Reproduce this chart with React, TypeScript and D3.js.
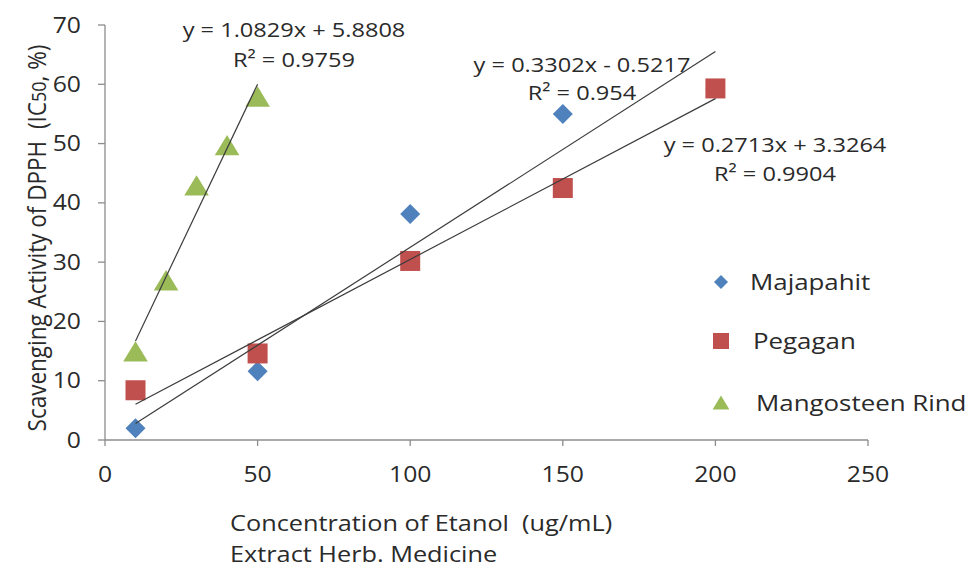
import React from 'react';
import * as d3 from 'd3';

// ---- data ----
const concMajapahit = [10, 50, 100, 150, 200];
const valMajapahit = [2.0, 11.6, 38.1, 55.0, 59.2];
const concPegagan = [10, 50, 100, 150, 200];
const valPegagan = [8.4, 14.6, 30.2, 42.5, 59.3];
const concMangosteen = [10, 20, 30, 40, 50];
const valMangosteen = [14.8, 26.8, 42.8, 49.6, 57.8];
const seriesNames = ['Majapahit', 'Pegagan', 'Mangosteen Rind'];
const trendSlopes = [0.3302, 0.2713, 1.0829];
const trendIntercepts = [-0.5217, 3.3264, 5.8808];
const trendEquations = ['y = 0.3302x - 0.5217', 'y = 0.2713x + 3.3264', 'y = 1.0829x + 5.8808'];
const trendR2 = ['R² = 0.954', 'R² = 0.9904', 'R² = 0.9759'];
const xTicks = [0, 50, 100, 150, 200, 250];
const yTicks = [0, 10, 20, 30, 40, 50, 60, 70];

const W = 970;
const H = 569;
const FONT = "'Open Sans', 'Noto Sans', sans-serif";
const SX = 1.15;
const TXT = '#2a2a2a';
const COLORS = ['#4F81BD', '#C0504D', '#9BBB59'];

const x = d3.scaleLinear().domain([0, 250]).range([105, 868]);
const y = d3.scaleLinear().domain([0, 70]).range([440, 25]);

const markerPath = (shape: number, cx: number, cy: number, s: number) => {
  const p = d3.path();
  if (shape === 0) {
    p.moveTo(cx, cy - s);
    p.lineTo(cx + s, cy);
    p.lineTo(cx, cy + s);
    p.lineTo(cx - s, cy);
    p.closePath();
  } else if (shape === 1) {
    p.rect(cx - s, cy - s, 2 * s, 2 * s);
  } else {
    p.moveTo(cx, cy - s);
    p.lineTo(cx + s * 1.12, cy + s * 0.85);
    p.lineTo(cx - s * 1.12, cy + s * 0.85);
    p.closePath();
  }
  return p.toString();
};

const T = ({ x: tx, y: ty, anchor = 'start', size = 20, rot = 0, sx = SX, children, fill = TXT }: any) => (
  <text
    transform={`translate(${tx},${ty}) scale(${sx},1)${rot ? ` rotate(${rot})` : ''}`}
    textAnchor={anchor}
    fontFamily={FONT}
    fontSize={size}
    fill={fill}
  >
    {children}
  </text>
);

export default function App() {
  const series = [
    { xs: concMajapahit, ys: valMajapahit },
    { xs: concPegagan, ys: valPegagan },
    { xs: concMangosteen, ys: valMangosteen },
  ];
  const markerSize = [10, 10, 11];
  const legendSize = [7, 8, 7.5];
  const legendY = [282, 341, 403];
  const legendTextX = [750, 753, 756];
  const eqPos = [
    [582, 72, 100],
    [775, 152, 181],
    [294, 37, 67],
  ];
  const line = d3.line<number>().x((d) => x(d[0] as any)).y((d) => y(d[1] as any));

  return (
    <div style={{ position: 'fixed', left: 0, top: 0 }}>
      <svg width={W} height={H} style={{ display: 'block', background: '#fff' }}>
        <rect width={W} height={H} fill="#fff" />
        {/* axes */}
        <line x1={x(0)} x2={x(250)} y1={y(0)} y2={y(0)} stroke="#8c8c8c" strokeWidth={1.3} />
        <line x1={x(0)} x2={x(0)} y1={y(0)} y2={y(70)} stroke="#8c8c8c" strokeWidth={1.3} />
        {yTicks.map((t) => (
          <g key={'yt' + t}>
            <line x1={x(0) - 7} x2={x(0)} y1={y(t)} y2={y(t)} stroke="#8c8c8c" strokeWidth={1.3} />
            <T x={81} y={y(t) + 7.5} anchor="end" size={21.5}>{t}</T>
          </g>
        ))}
        {xTicks.map((t) => (
          <g key={'xt' + t}>
            <line x1={x(t)} x2={x(t)} y1={y(0)} y2={y(0) + 6} stroke="#8c8c8c" strokeWidth={1.3} />
            <T x={x(t)} y={482} anchor="middle" size={21.5}>{t}</T>
          </g>
        ))}
        {/* axis titles */}
        <T x={230} y={531} size={22}>Concentration of Etanol{'\u00a0\u00a0'}(ug/mL)</T>
        <T x={230} y={562} size={22}>Extract Herb. Medicine</T>
        <T x={46} y={238} anchor="middle" size={22.5} sx={1.1} rot={-90}>
          Scavenging Activity of DPPH{'\u00a0\u00a0'}(IC<tspan fontSize={18}>50</tspan>, %)
        </T>
        {/* markers */}
        {series.map((s, i) => (
          <g key={'s' + i} fill={COLORS[i]}>
            {s.xs.map((cx, j) => (
              <path key={j} d={markerPath(i, x(cx), y(s.ys[j]), markerSize[i])} />
            ))}
          </g>
        ))}
        {/* trendlines */}
        {series.map((s, i) => {
          const [x0, x1] = d3.extent(s.xs) as [number, number];
          const pts = [x0, x1].map((v) => [v, trendSlopes[i] * v + trendIntercepts[i]]);
          return <path key={'tl' + i} d={line(pts as any) as string} fill="none" stroke="#3c3c3c" strokeWidth={1.2} />;
        })}
        {/* equations */}
        {trendEquations.map((eq, i) => (
          <g key={'eq' + i}>
            <T x={eqPos[i][0]} y={eqPos[i][1]} anchor="middle" size={20.5}>{eq}</T>
            <T x={eqPos[i][0]} y={eqPos[i][2]} anchor="middle" size={20.5}>{trendR2[i]}</T>
          </g>
        ))}
        {/* legend */}
        {seriesNames.map((n, i) => (
          <g key={'lg' + i}>
            <path d={markerPath(i, 721, legendY[i], legendSize[i])} fill={COLORS[i]} />
            <T x={legendTextX[i]} y={legendY[i] + 8} size={22.5}>{n}</T>
          </g>
        ))}
      </svg>
    </div>
  );
}
